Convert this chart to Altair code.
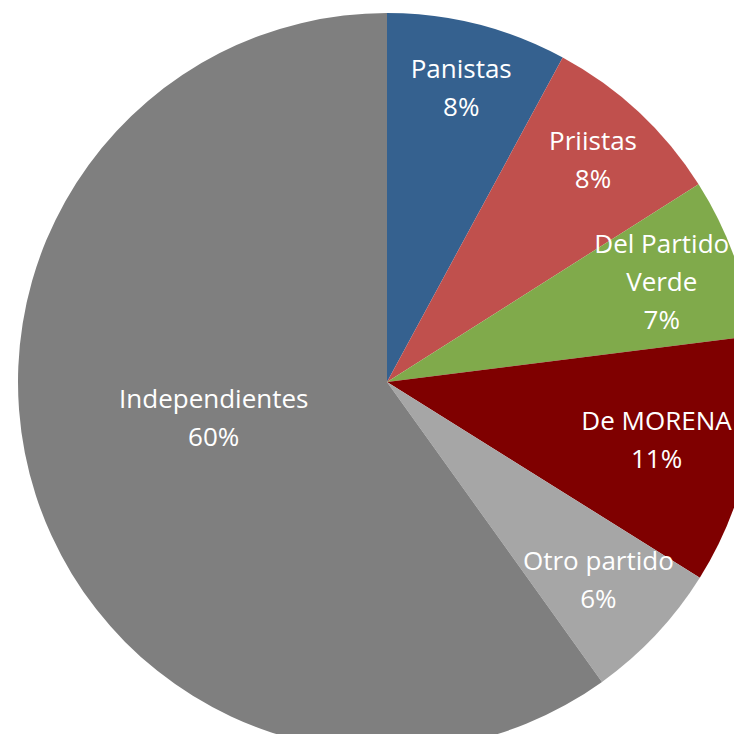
import altair as alt
import pandas as pd

categories = ["Panistas", "Priistas", "Del Partido Verde", "De MORENA", "Otro partido", "Independientes"]
values = [7.9, 8.1, 7.0, 10.9, 6.2, 59.9]
label_lines = [["Panistas", "8%"], ["Priistas", "8%"], ["Del Partido", "Verde", "7%"],
               ["De MORENA", "11%"], ["Otro partido", "6%"], ["Independientes", "60%"]]
colors = ["#35618F", "#C0504D", "#80AA4B", "#7F0000", "#A6A6A6", "#7F7F7F"]

df = pd.DataFrame({
    "cat": categories,
    "value": values,
    "label": label_lines,
    "order": list(range(len(categories))),
})

CX, CY, R = 379, 374, 369
FS, LH = 26, 38

base = alt.Chart(df).encode(
    theta=alt.Theta("value:Q", stack=True, scale=alt.Scale(range=[0, 6.283185307])),
    order=alt.Order("order:Q", sort="ascending"),
)

pie = base.mark_arc(outerRadius=R, x=CX, y=CY).encode(
    color=alt.Color("cat:N", scale=alt.Scale(domain=categories, range=colors), legend=None),
)


def text_layer(radius, dy, names):
    cond = alt.FieldOneOfPredicate(field="cat", oneOf=names)
    return base.mark_text(
        radius=radius, x=CX, y=CY, dy=dy, font="Open Sans", fontSize=FS, lineHeight=LH,
        color="white", align="center", baseline="middle",
    ).encode(
        text="label",
        opacity=alt.condition(cond, alt.value(1), alt.value(0)),
    )


chart = alt.layer(
    pie,
    text_layer(302, -LH / 2, ["Panistas", "Priistas"]),
    text_layer(292, -LH, ["Del Partido Verde"]),
    text_layer(276, -LH / 2, ["De MORENA"]),
    text_layer(290, -LH / 2, ["Otro partido"]),
    text_layer(182, -LH / 2 - 19, ["Independientes"]),
).properties(
    width=726, height=726, padding=0, autosize=alt.AutoSizeParams(type="none"),
).configure_view(stroke=None)

chart.save("out.html", embed_options={"renderer": "svg", "actions": False})
